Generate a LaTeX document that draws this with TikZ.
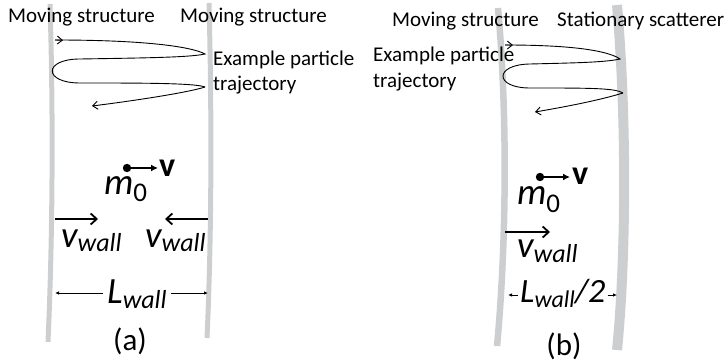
\documentclass[tikz,border=0pt]{standalone}
\usepackage{fontspec}
\setmainfont{Carlito}
\usetikzlibrary{arrows.meta}
\newcommand\dgBig{\fontsize{37}{40}\selectfont\itshape}
\newcommand\dgSubI{\fontsize{26}{29}\selectfont\itshape}
\newcommand\dgSubU{\fontsize{27}{30}\selectfont\upshape}
\newcommand\dgMid{\fontsize{34}{37}\selectfont\itshape}
\newcommand\dgMidSub{\fontsize{24}{27}\selectfont\itshape}
\tikzset{
  wallline/.style={draw={rgb,255:red,205;green,206;blue,208}, line cap=butt},
  traj/.style={draw=black, line width=0.9pt},
  txt/.style={inner sep=0pt, anchor=base west, font=\fontsize{21}{25}\selectfont},
  math/.style={inner sep=0pt, anchor=base west},
  wallarrow/.style={line width=1.8pt, -{Straight Barb[length=6pt,width=11pt]}},
  velarrow/.style={line width=1.8pt, -{Latex[length=7pt,width=7pt]}},
  dimline/.style={line width=0.8pt, -{Latex[length=4pt,width=3.5pt]}},
  endtip/.style={line width=0.9pt, -{Straight Barb[length=5pt,width=8pt]}},
  dotmark/.style={fill=black, draw=none}
}
\begin{document}
\begin{tikzpicture}[x=1pt,y=-1pt]
\useasboundingbox (0,0) rectangle (727,363);
% ---------- walls ----------
\draw[wallline, line width=5pt] (50,4) .. controls (53.5,120) and (52.5,240) .. (48,342);
\draw[wallline, line width=5pt] (209,3) .. controls (212,120) and (211.5,240) .. (207,338);
\draw[wallline, line width=6.5pt] (498,8) .. controls (508,120) and (506,250) .. (497,346);
\draw[wallline, line width=10pt] (617,5) .. controls (627,120) and (626,260) .. (617,350);

% ---------- panel (a) ----------
\node[txt] (ams1) at (8,23) {Moving structure};
\node[txt] (ams2) at (180,23) {Moving structure};
\node[txt] (aex1) at (213,66) {Example particle};
\node[txt] (aex2) at (213,91) {trajectory};

\draw[traj] (55,40) .. controls (140,40) and (190,46) .. (205,54)
  .. controls (190,57.5) and (140,58) .. (80,59)
  .. controls (43,59) and (43,83) .. (80,83)
  .. controls (140,83) and (195,83) .. (205,87);
\draw[endtip] (205,87) .. controls (190,92) and (140,100) .. (92,106);
\draw[endtip] (55,40) -- (63,40.2);

\coordinate (adot) at (127,168);
\coordinate (atip) at (158,168);
\fill[dotmark] (adot) circle (4.2pt);
\draw[velarrow] (adot) -- (atip);
\node[math] (av) at (159,177) {\fontsize{34}{38}\selectfont\bfseries v};
\node[math] (am) at (104,195) {{\dgBig m}\raisebox{-7pt}{\dgSubU 0}};

\coordinate (awl1) at (55,219);
\coordinate (awl2) at (98,219);
\coordinate (awr1) at (208,219);
\coordinate (awr2) at (165,219);
\draw[wallarrow] (awl1) -- (awl2);
\draw[wallarrow] (awr1) -- (awr2);
\node[math] (avl) at (61,247) {{\dgBig v}\raisebox{-5pt}{\dgSubI wall}};
\node[math] (avr) at (145,247) {{\dgBig v}\raisebox{-5pt}{\dgSubI wall}};

\node[math, inner xsep=4pt] (aL) at (103,303) {{\dgBig L}\raisebox{-5pt}{\dgSubI wall}};
\coordinate (aLl) at (55,293);
\coordinate (aLr) at (208,293);
\draw[dimline] (aLl -| aL.west) -- (aLl);
\draw[dimline] (aLr -| aL.east) -- (aLr);
\node[inner sep=0pt, anchor=base, font=\fontsize{31}{34}\selectfont] (alab) at (130,350) {(a)};

% ---------- panel (b) ----------
\node[txt] (bms) at (392,27) {Moving structure};
\node[txt] (bss) at (557,27) {Stationary scatterer};
\node[txt] (bex1) at (373,62) {Example particle};
\node[txt] (bex2) at (373,88) {trajectory};

\draw[traj] (505,45) .. controls (580,45) and (610,52) .. (620,59)
  .. controls (605,62.5) and (570,63) .. (530,64)
  .. controls (494,64.5) and (494,88) .. (530,88)
  .. controls (590,88) and (615,88) .. (623,93);
\draw[endtip] (623,93) .. controls (600,100) and (570,106) .. (535,112);
\draw[endtip] (505,45) -- (513,45.1);

\coordinate (bdot) at (540,177);
\coordinate (btip) at (570,177);
\fill[dotmark] (bdot) circle (4.2pt);
\draw[velarrow] (bdot) -- (btip);
\node[math] (bv) at (572,185) {\fontsize{34}{38}\selectfont\bfseries v};
\node[math] (bm) at (517,205) {{\dgBig m}\raisebox{-7pt}{\dgSubU 0}};

\coordinate (bw1) at (505,232);
\coordinate (bw2) at (550,232);
\draw[wallarrow] (bw1) -- (bw2);
\node[math] (bvw) at (517,257) {{\dgBig v}\raisebox{-5pt}{\dgSubI wall}};

\node[math, inner xsep=2pt] (bL) at (518,302) {{\dgMid L}\raisebox{-5pt}{\dgMidSub wall}{\dgMid /2}};
\coordinate (bLl) at (508,295);
\coordinate (bLr) at (617,295);
\draw[dimline] (bLl -| bL.west) -- (bLl);
\draw[dimline] (bLr -| bL.east) -- (bLr);
\node[inner sep=0pt, anchor=base, font=\fontsize{31}{34}\selectfont] (blab) at (564,355) {(b)};
\end{tikzpicture}
\end{document}
